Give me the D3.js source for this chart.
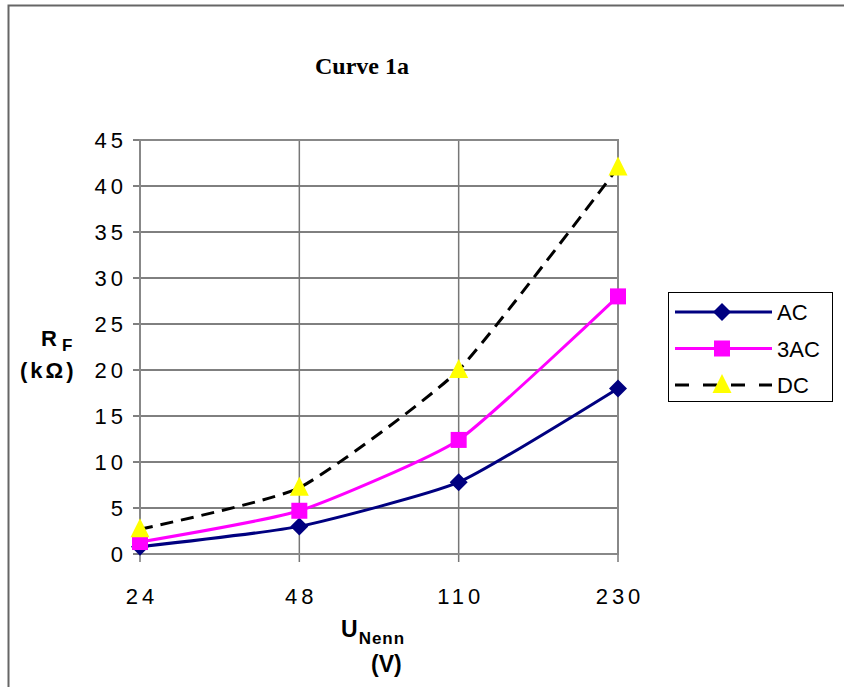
<!DOCTYPE html>
<html>
<head>
<meta charset="UTF-8">
<script src="https://d3js.org/d3.v7.min.js"></script>
<style>
  body { margin: 0; background: #fff; }
  .tick-lbl { font-family: "Liberation Sans", Arial, sans-serif; font-size: 22px; letter-spacing: 4px; }
  .lbl { font-family: "Liberation Sans", Arial, sans-serif; font-weight: bold; }
</style>
</head>
<body>
<svg width="844" height="687"></svg>
<script>
const categories = ["24", "48", "110", "230"];
const acValues = [0.8, 3.0, 7.8, 18];
const ac3Values = [1.3, 4.7, 12.4, 28];
const dcValues = [2.7, 7.2, 20, 42];
const yTicks = [0, 5, 10, 15, 20, 25, 30, 35, 40, 45];

const series = [
  { name: "AC", values: acValues, color: "#000080", dash: null, marker: "diamond" },
  { name: "3AC", values: ac3Values, color: "#ff00ff", dash: null, marker: "square" },
  { name: "DC", values: dcValues, color: "#000000", dash: "13,8", marker: "triangle" }
];

const svg = d3.select("svg");

// outer frame
svg.append("rect").attr("x", 8.5).attr("y", 5.5).attr("width", 900).attr("height", 900)
  .attr("fill", "none").attr("stroke", "#666").attr("stroke-width", 2);

const x = d3.scalePoint().domain(categories).range([140, 618]);
const y = d3.scaleLinear().domain([0, 45]).range([554, 140]);

// grid
svg.append("g").selectAll("line").data(yTicks).join("line")
  .attr("x1", 133).attr("x2", 618)
  .attr("y1", d => y(d)).attr("y2", d => y(d))
  .attr("stroke", "#000").attr("stroke-width", 1);
svg.append("g").selectAll("line").data(categories).join("line")
  .attr("x1", d => x(d)).attr("x2", d => x(d))
  .attr("y1", 140).attr("y2", 562)
  .attr("stroke", "#777").attr("stroke-width", 1.5);

// plot border
svg.append("rect").attr("x", 140).attr("y", 140).attr("width", 478).attr("height", 414)
  .attr("fill", "none").attr("stroke", "#888").attr("stroke-width", 2);

// tick labels
svg.append("g").selectAll("text").data(yTicks).join("text")
  .attr("class", "tick-lbl").attr("text-anchor", "end")
  .attr("x", 127).attr("y", d => y(d) + 8)
  .text(d => d);
svg.append("g").selectAll("text").data(categories).join("text")
  .attr("class", "tick-lbl").attr("text-anchor", "middle")
  .attr("x", d => x(d) + 2).attr("y", 604)
  .text(d => d);

// title
svg.append("text").attr("x", 362).attr("y", 74).attr("text-anchor", "middle")
  .style("font-family", "'Liberation Serif', 'DejaVu Serif', serif")
  .style("font-weight", "bold").style("font-size", "24px")
  .text("Curve 1a");

// axis titles
const yl = svg.append("text").attr("class", "lbl").attr("x", 41).attr("y", 346).style("font-size", "22px");
yl.append("tspan").text("R");
yl.append("tspan").attr("dx", 5).attr("dy", 5).style("font-size", "17px").text("F");
svg.append("text").attr("class", "lbl").attr("x", 20).attr("y", 378).style("font-size", "22px")
  .style("letter-spacing", "3px").text("(kΩ)");

const xl = svg.append("text").attr("class", "lbl").attr("x", 341).attr("y", 637).style("font-size", "23px");
xl.append("tspan").text("U");
xl.append("tspan").attr("dx", 1).attr("dy", 7).style("font-size", "17px").style("letter-spacing", "1px").text("Nenn");
svg.append("text").attr("class", "lbl").attr("x", 371).attr("y", 672).style("font-size", "23px").text("(V)");

// lines
const line = d3.line()
  .x((d, i) => x(categories[i]))
  .y(d => y(d))
  .curve(d3.curveCardinal.tension(0.5));

function drawMarker(g, type, color, cx, cy) {
  if (type === "diamond") {
    g.append("path").attr("d", `M${cx},${cy - 9}L${cx + 9},${cy}L${cx},${cy + 9}L${cx - 9},${cy}Z`)
      .attr("fill", color);
  } else if (type === "square") {
    g.append("rect").attr("x", cx - 8).attr("y", cy - 8).attr("width", 16).attr("height", 16)
      .attr("fill", color);
  } else {
    g.append("path").attr("d", `M${cx},${cy - 11}L${cx + 9.5},${cy + 8}L${cx - 9.5},${cy + 8}Z`)
      .attr("fill", "#ffff00");
  }
}

series.forEach(s => {
  svg.append("path").datum(s.values).attr("d", line)
    .attr("fill", "none").attr("stroke", s.color).attr("stroke-width", 3)
    .attr("stroke-dasharray", s.dash);
  const g = svg.append("g");
  s.values.forEach((v, i) => drawMarker(g, s.marker, s.color, x(categories[i]), y(v)));
});

// legend
svg.append("rect").attr("x", 668.5).attr("y", 292.5).attr("width", 164).attr("height", 109)
  .attr("fill", "#fff").attr("stroke", "#000").attr("stroke-width", 1);
series.forEach((s, i) => {
  const ly = 312 + i * 36.5;
  svg.append("line").attr("x1", 675).attr("x2", 772).attr("y1", ly).attr("y2", ly)
    .attr("stroke", s.color).attr("stroke-width", 3).attr("stroke-dasharray", s.dash ? "14,14" : null);
  drawMarker(svg.append("g"), s.marker, s.color, 722, ly);
  svg.append("text").attr("x", 777).attr("y", ly + 8)
    .style("font-family", "'Liberation Sans', Arial, sans-serif").style("font-size", "22px")
    .text(s.name);
});
</script>
</body>
</html>
